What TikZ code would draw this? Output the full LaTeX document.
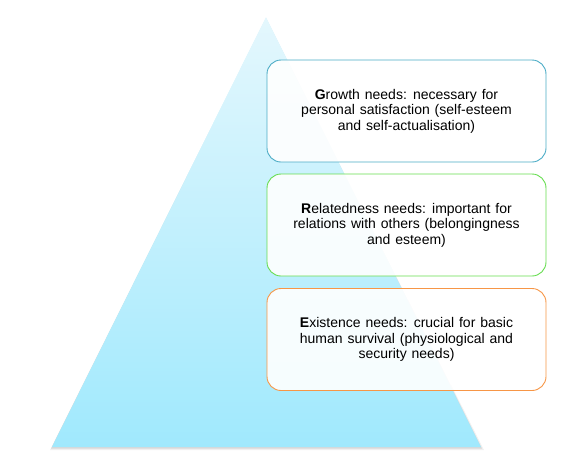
\documentclass[tikz,border=0pt]{standalone}
\usepackage{fontspec}
\setmainfont{Liberation Sans}
\usetikzlibrary{shapes.misc}
\definecolor{pyrtop}{HTML}{E4F7FD}
\definecolor{pyrbot}{HTML}{A0E9FD}
\definecolor{bluebd}{HTML}{4BACC6}
\definecolor{greenbd}{HTML}{66DD4F}
\definecolor{orangebd}{HTML}{F79646}
\newcommand\needfont{\fontsize{14pt}{15.4pt}\selectfont\spaceskip=4.9pt plus 1pt minus 1pt\relax}
\tikzset{
  needbox/.style={draw, line width=0.9pt, fill=white, fill opacity=0.9, text opacity=1,
    rounded corners=14pt, minimum width=279pt, minimum height=102pt, inner sep=0pt,
    align=center, font=\needfont},
}
\begin{document}
\begin{tikzpicture}[x=1pt,y=-1pt]
\useasboundingbox (0,0) rectangle (582,456);
% shadow
\fill[black, opacity=0.06] (266,19) -- (484,450) -- (50,450) -- cycle;
\fill[black, opacity=0.10] (266,18) -- (482,448.5) -- (51,448.5) -- cycle;
% pyramid
\shade[top color=pyrtop, bottom color=pyrbot] (266,17) -- (481,447) -- (52,447) -- cycle;
\coordinate (apex) at (266,17);
% boxes
\node[needbox, draw=bluebd] (growth) at (406.5,111)
  {\textbf{G}rowth needs: necessary for\\personal satisfaction (self-esteem\\and self-actualisation)};
\node[needbox, draw=greenbd] (related) at (406.5,225)
  {\textbf{R}elatedness needs: important for\\relations with others (belongingness\\and esteem)};
\node[needbox, draw=orangebd] (exist) at (406.5,339.5)
  {\textbf{E}xistence needs: crucial for basic\\human survival (physiological and\\security needs)};
\end{tikzpicture}
\end{document}
